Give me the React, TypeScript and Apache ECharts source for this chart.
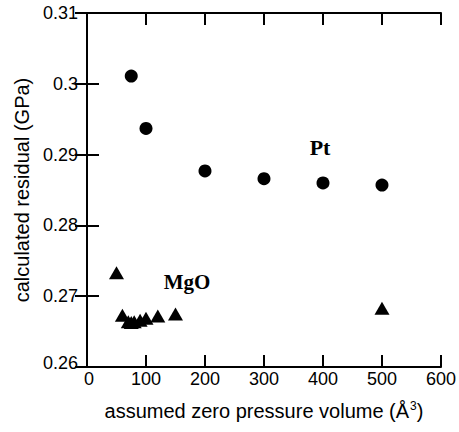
import React, { useEffect, useRef } from "react";
import * as echarts from "echarts";

const ptVolumes = [75, 100, 200, 300, 400, 500];
const ptResiduals = [0.3011, 0.2937, 0.2877, 0.2866, 0.286, 0.2857];

const mgoVolumes = [50, 60, 70, 75, 80, 90, 100, 120, 150, 500];
const mgoResiduals = [0.2733, 0.2673, 0.2664, 0.2663, 0.2664, 0.2666, 0.2669, 0.2672, 0.2675, 0.2683];

const xTicks = [0, 100, 200, 300, 400, 500, 600];
const yTicks = [0.26, 0.27, 0.28, 0.29, 0.3, 0.31];

export default function App() {
  const ref = useRef<HTMLDivElement>(null);
  useEffect(() => {
    if (!ref.current) return;
    const chart = echarts.init(ref.current, undefined, { renderer: "svg" });
    const sans = "'Liberation Sans', Arial, sans-serif";
    const serif = "'Liberation Serif', 'Times New Roman', serif";
    const axisLine = { show: true, lineStyle: { color: "#000", width: 2, opacity: 1 } };
    const tick = { show: true, inside: true, length: 12, lineStyle: { color: "#000", width: 2, opacity: 1 } };
    chart.setOption({
      animation: false,
      backgroundColor: "#fff",
      grid: { left: 87, right: 15, top: 13, bottom: 65, containLabel: false },
      xAxis: [
        {
          type: "value",
          min: xTicks[0],
          max: xTicks[xTicks.length - 1],
          interval: 100,
          position: "bottom",
          axisLine,
          axisTick: tick,
          splitLine: { show: false },
          axisLabel: {
            color: "#000",
            fontFamily: sans,
            fontSize: 18,
            margin: 3,
            formatter: (v: number) => (v === xTicks[0] ? "{first|" + v + "}" : String(v)),
            rich: { first: { color: "#000", fontFamily: sans, fontSize: 18, padding: [0, 0, 0, 4] } },
          },
          name: "assumed zero pressure volume (Å{sup|3})",
          nameLocation: "middle",
          nameGap: 33,
          nameTextStyle: {
            color: "#000",
            fontFamily: sans,
            fontSize: 20,
            rich: { sup: { fontSize: 12, fontFamily: sans, color: "#000", verticalAlign: "top", padding: [0, 0, 10, 1] } },
          },
        },
        {
          type: "value",
          min: xTicks[0],
          max: xTicks[xTicks.length - 1],
          interval: 100,
          position: "top",
          axisLine,
          axisTick: tick,
          splitLine: { show: false },
          axisLabel: { show: false },
        },
      ],
      yAxis: [
        {
          type: "value",
          min: yTicks[0],
          max: yTicks[yTicks.length - 1],
          interval: 0.01,
          position: "left",
          axisLine,
          axisTick: tick,
          splitLine: { show: false },
          axisLabel: {
            color: "#000",
            fontFamily: sans,
            fontSize: 18,
            margin: 9,
            formatter: (v: number) => {
              const s = String(parseFloat(v.toFixed(2)));
              return Math.abs(v - yTicks[0]) < 1e-9 ? "{low|" + s + "}" : s;
            },
            rich: { low: { color: "#000", fontFamily: sans, fontSize: 18, padding: [0, 0, 8, 0] } },
          },
          name: "calculated residual (GPa)",
          nameLocation: "middle",
          nameGap: 55,
          nameTextStyle: { color: "#000", fontFamily: sans, fontSize: 20 },
        },
        {
          type: "value",
          min: yTicks[0],
          max: yTicks[yTicks.length - 1],
          interval: 0.01,
          position: "right",
          axisLine,
          axisTick: tick,
          splitLine: { show: false },
          axisLabel: { show: false },
        },
      ],
      graphic: [
        {
          type: "text",
          x: 320,
          y: 147,
          style: { text: "Pt", font: `bold 22px ${serif}`, fill: "#000", align: "center", verticalAlign: "middle" },
        },
        {
          type: "text",
          x: 187,
          y: 282,
          style: { text: "MgO", font: `bold 21px ${serif}`, fill: "#000", align: "center", verticalAlign: "middle" },
        },
      ],
      series: [
        {
          name: "Pt",
          type: "scatter",
          symbol: "circle",
          symbolSize: 13,
          itemStyle: { color: "#000", opacity: 1 },
          data: ptVolumes.map((v, i) => [v, ptResiduals[i]]),
        },
        {
          name: "MgO",
          type: "scatter",
          symbol: "triangle",
          symbolSize: [15, 13],
          itemStyle: { color: "#000", opacity: 1 },
          data: mgoVolumes.map((v, i) => [v, mgoResiduals[i]]),
        },
      ],
    });
    return () => chart.dispose();
  }, []);
  return <div ref={ref} style={{ position: "absolute", left: 0, top: 0, width: 459, height: 432 }} />;
}
